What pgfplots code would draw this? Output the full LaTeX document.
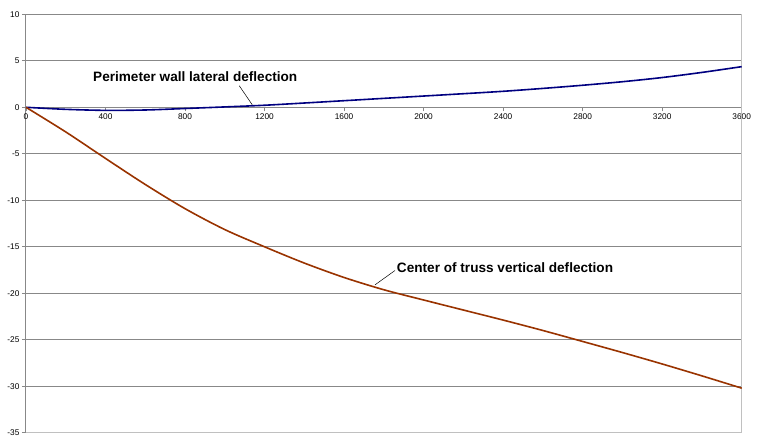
\documentclass[border=0pt]{standalone}
\usepackage{pgfplots}
\pgfplotsset{compat=1.18}
\usepackage{fontspec}
\setmainfont{Liberation Sans}
\definecolor{wallc}{HTML}{000080}
\definecolor{trussc}{HTML}{993300}
\definecolor{gridc}{HTML}{888888}
\definecolor{borderc}{HTML}{C0C0C0}
\begin{document}
\begin{tikzpicture}[x=1pt,y=1pt]
\useasboundingbox (-26,-13.2) rectangle (732,432.8);
\begin{axis}[
  at={(0,0)}, anchor=south west,
  scale only axis,
  width=715.7pt, height=418.5pt,
  xmin=0, xmax=3600, ymin=-35, ymax=10,
  axis x line*=middle, axis y line*=left,
  hide obscured x ticks=false, hide obscured y ticks=false,
  xtick={0,400,...,3600}, ytick={-35,-30,...,10},
  tick align=outside,
  major tick length=4pt,
  tick style={draw=gridc, line width=0.8pt},
  axis line style={draw=gridc, line width=1pt},
  ymajorgrids, grid style={draw=gridc, line width=1pt},
  /pgf/number format/assume math mode=true,
  /pgf/number format/1000 sep={},
  ticklabel style={font=\fontsize{8.3}{9}\selectfont},
  xticklabel style={yshift=1pt},
  yticklabel style={xshift=1pt},
  clip=false,
]
\draw[borderc, line width=1pt] (rel axis cs:1,0) -- (rel axis cs:1,1);
\draw[borderc, line width=1pt] (rel axis cs:0,0) -- (rel axis cs:1,0);
\addplot[wallc, line width=1.6pt, smooth, tension=0.5] coordinates {
(0,0) (200,-0.22) (400,-0.33) (600,-0.29) (800,-0.13) (1000,0.04) (1200,0.22)
(1400,0.46) (1600,0.71) (1800,0.96) (2000,1.21) (2200,1.46) (2400,1.72)
(2600,2.03) (2800,2.37) (3000,2.75) (3200,3.2) (3400,3.75) (3600,4.37)};
\addplot[trussc, line width=1.6pt, smooth, tension=0.5] coordinates {
(0,0) (200,-2.65) (400,-5.5) (600,-8.3) (800,-10.9) (1000,-13.15) (1200,-15.0)
(1400,-16.75) (1600,-18.3) (1800,-19.62) (2000,-20.72) (2200,-21.8) (2400,-22.88)
(2600,-24.0) (2800,-25.18) (3000,-26.37) (3200,-27.6) (3400,-28.88) (3600,-30.2)};
\node[anchor=west, inner sep=0pt, font=\fontsize{13.6}{15}\bfseries] at (axis cs:337,3.3) {Perimeter wall lateral deflection};
\draw[black, line width=0.5pt] (axis cs:1073,2.31) -- (axis cs:1138,0.27);
\node[anchor=west, inner sep=0pt, font=\fontsize{13.6}{15}\bfseries] at (axis cs:1865,-17.23) {Center of truss vertical deflection};
\draw[black, line width=0.5pt] (axis cs:1856,-17.55) -- (axis cs:1755,-19.1);
\end{axis}
\end{tikzpicture}
\end{document}
